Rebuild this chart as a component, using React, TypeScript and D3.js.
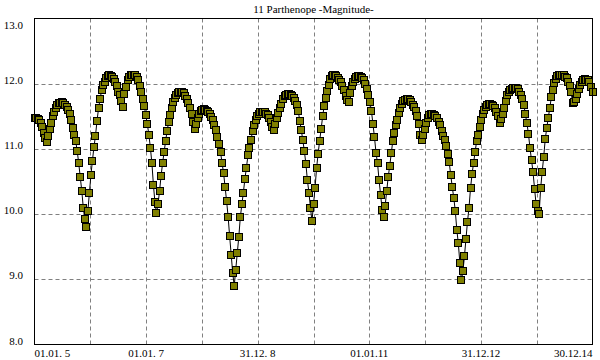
import React from 'react';
import * as d3 from 'd3';

// 11 Parthenope, predicted magnitude, one value every 10 days from 01.01.2005
const magnitude = [
  11.48, 11.48, 11.46, 11.44, 11.40, 11.34, 11.25, 11.17, 11.11, 11.20,
  11.31, 11.40, 11.50, 11.57, 11.62, 11.67, 11.70, 11.71, 11.72, 11.71,
  11.68, 11.65, 11.60, 11.53, 11.45, 11.32, 11.22, 11.12, 10.97, 10.78,
  10.57, 10.36, 10.10, 9.92, 9.80, 10.05, 10.32, 10.60, 10.82, 11.03,
  11.20, 11.43, 11.62, 11.76, 11.90, 11.98, 12.03, 12.08, 12.12, 12.13,
  12.12, 12.10, 12.07, 12.02, 11.96, 11.88, 11.82, 11.74, 11.64, 11.84,
  11.95, 12.05, 12.10, 12.13, 12.14, 12.14, 12.13, 12.10, 12.05, 11.97,
  11.88, 11.76, 11.66, 11.52, 11.38, 11.22, 11.02, 10.78, 10.45, 10.18,
  10.02, 10.15, 10.35, 10.58, 10.78, 10.95, 11.12, 11.28, 11.41, 11.52,
  11.63, 11.72, 11.78, 11.83, 11.86, 11.88, 11.88, 11.87, 11.85, 11.81,
  11.76, 11.70, 11.63, 11.53, 11.42, 11.31, 11.38, 11.47, 11.54, 11.58,
  11.60, 11.61, 11.60, 11.58, 11.56, 11.53, 11.49, 11.44, 11.37, 11.29,
  11.19, 11.08, 10.95, 10.79, 10.63, 10.42, 10.20, 9.96, 9.66, 9.38,
  9.10, 8.90, 9.15, 9.40, 9.65, 9.95, 10.15, 10.33, 10.54, 10.71,
  10.90, 11.02, 11.14, 11.27, 11.36, 11.44, 11.50, 11.54, 11.56, 11.57,
  11.57, 11.56, 11.54, 11.52, 11.48, 11.42, 11.34, 11.29, 11.38, 11.47,
  11.55, 11.62, 11.69, 11.76, 11.81, 11.83, 11.84, 11.84, 11.83, 11.81,
  11.78, 11.74, 11.67, 11.58, 11.43, 11.29, 11.13, 10.97, 10.77, 10.52,
  10.33, 10.10, 9.89, 10.15, 10.40, 10.70, 10.92, 11.12, 11.30, 11.50,
  11.66, 11.78, 11.89, 11.98, 12.07, 12.12, 12.14, 12.14, 12.12, 12.09,
  12.05, 12.02, 11.97, 11.90, 11.81, 11.75, 11.72, 11.86, 11.96, 12.02,
  12.07, 12.10, 12.12, 12.12, 12.11, 12.09, 12.05, 12.00, 11.92, 11.82,
  11.72, 11.58, 11.38, 11.18, 10.94, 10.78, 10.52, 10.30, 10.07, 9.95,
  10.13, 10.35, 10.57, 10.74, 10.93, 11.12, 11.25, 11.36, 11.45, 11.55,
  11.63, 11.69, 11.73, 11.75, 11.76, 11.76, 11.75, 11.72, 11.68, 11.64,
  11.58, 11.50, 11.38, 11.22, 11.13, 11.22, 11.30, 11.40, 11.47, 11.52,
  11.54, 11.54, 11.52, 11.50, 11.47, 11.42, 11.36, 11.28, 11.20, 11.13,
  11.05, 10.92, 10.80, 10.60, 10.42, 10.25, 10.05, 9.76, 9.55, 9.25,
  8.99, 9.12, 9.35, 9.62, 9.88, 10.10, 10.40, 10.61, 10.79, 10.95,
  11.12, 11.22, 11.33, 11.45, 11.53, 11.60, 11.65, 11.68, 11.69, 11.69,
  11.68, 11.66, 11.63, 11.57, 11.50, 11.39, 11.46, 11.53, 11.62, 11.73,
  11.82, 11.87, 11.90, 11.92, 11.94, 11.94, 11.94, 11.92, 11.88, 11.83,
  11.77, 11.67, 11.53, 11.39, 11.23, 11.01, 10.83, 10.64, 10.39, 10.15,
  10.05, 10.00, 10.40, 10.65, 10.88, 11.15, 11.32, 11.48, 11.63, 11.79,
  11.91, 12.01, 12.07, 12.12, 12.14, 12.14, 12.14, 12.13, 12.11, 12.08,
  12.03, 11.97, 11.87, 11.70, 11.72, 11.77, 11.84, 11.92, 11.98, 12.02,
  12.05, 12.07, 12.06, 12.05, 12.02, 11.95, 11.87,
];

const yTicks = [8, 9, 10, 11, 12, 13];
// labels under every second vertical grid line
const dateLabels = ['01.01. 5', '01.01. 7', '31.12. 8', '01.01.11', '31.12.12', '30.12.14'];

const W = 600;
const H = 360;
const left = 34.5, right = 592.5, top = 18.5, bottom = 344.5;

const App = () => {
  const start = new Date(2005, 0, 1);
  const dates = magnitude.map((_, i) => d3.timeDay.offset(start, i * 10));

  const x = d3.scaleTime()
    .domain([dates[0], dates[dates.length - 1]])
    .range([left, right]);
  const y = d3.scaleLinear().domain([8, 13]).range([bottom, top]);

  const t0 = dates[0].getTime();
  const t1 = dates[dates.length - 1].getTime();
  const gridDates = d3.range(11).map(k => new Date(t0 + (k * (t1 - t0)) / 10));

  const line = d3.line<number>()
    .x((_, i) => x(dates[i]))
    .y(d => y(d));

  const font = '"Liberation Serif", "Times New Roman", serif';

  return (
    <svg width={W} height={H} style={{ position: 'absolute', left: 0, top: 0, background: '#fff' }}>
      <rect x={0} y={0} width={W} height={H} fill="#fff" />
      <text x={(left + right) / 2} y={13} textAnchor="middle" fontFamily={font} fontSize={11} fill="#000">
        11 Parthenope -Magnitude-
      </text>

      {/* grid */}
      <g stroke="#808080" strokeDasharray="4,3" strokeWidth={1}>
        {yTicks.slice(1, -1).map(v => (
          <line key={'h' + v} x1={left} x2={right} y1={Math.round(y(v)) + 0.5} y2={Math.round(y(v)) + 0.5} />
        ))}
        {gridDates.slice(1, -1).map((d, k) => (
          <line key={'v' + k} x1={Math.round(x(d)) + 0.5} x2={Math.round(x(d)) + 0.5} y1={top} y2={bottom} />
        ))}
      </g>

      {/* series */}
      <path d={line(magnitude) || ''} fill="none" stroke="#000" strokeWidth={1} />
      <g fill="#808000" stroke="#000" strokeWidth={1}>
        {magnitude.map((v, i) => (
          <rect key={i} x={Math.round(x(dates[i])) - 3.5} y={Math.round(y(v)) - 3.5} width={7} height={7} />
        ))}
      </g>

      <rect x={left} y={top} width={right - left} height={bottom - top} fill="none" stroke="#000" strokeWidth={1} />

      {/* y labels */}
      <g fontFamily={font} fontSize={11} fill="#000" textAnchor="end">
        {yTicks.map(v => (
          // the top label is kept inside the frame
          <text key={v} x={23} y={Math.max(y(v), 29)}>{v.toFixed(1)}</text>
        ))}
      </g>

      {/* x labels */}
      <g fontFamily={font} fontSize={11} fill="#000">
        {dateLabels.map((s, k) => {
          const d = gridDates[k * 2];
          const anchor = k === 0 ? 'start' : k === dateLabels.length - 1 ? 'end' : 'middle';
          return (
            <text key={s} x={x(d)} y={357} textAnchor={anchor} style={{ whiteSpace: 'pre' }}>{s}</text>
          );
        })}
      </g>
    </svg>
  );
};

export default App;
